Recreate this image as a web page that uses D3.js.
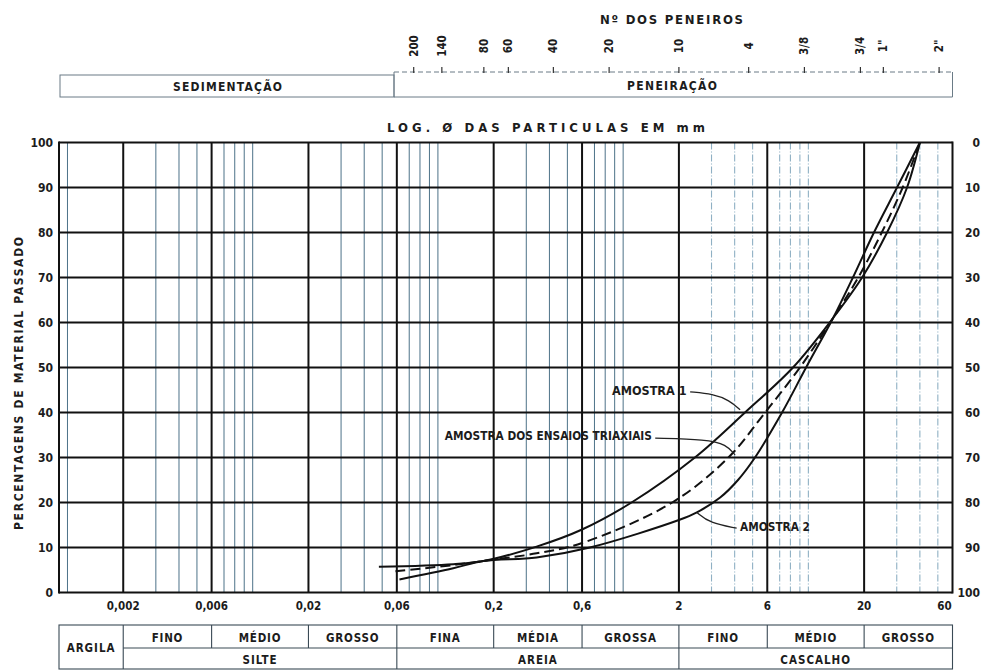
<!DOCTYPE html>
<html>
<head>
<meta charset="utf-8">
<script src="https://cdn.jsdelivr.net/npm/d3@7"></script>
<style>
  html, body { margin: 0; padding: 0; background: #fff; }
  svg { display: block; }
  text { font-family: 'DejaVu Sans Condensed', 'DejaVu Sans', sans-serif; font-weight: bold; fill: #1c1c1c; }
</style>
</head>
<body>
<svg id="chart" width="982" height="670"></svg>
<script>
// Grain size (mm) axis ticks and labels
const sizeTicks = [0.002, 0.006, 0.02, 0.06, 0.2, 0.6, 2, 6, 20, 60];
const sizeTickLabels = ["0,002", "0,006", "0,02", "0,06", "0,2", "0,6", "2", "6", "20", "60"];
const minorMultipliers = [1, 3, 4, 5, 7, 8, 9];

// Percent passing ticks (left) and percent retained labels (right)
const percentTicks = [0, 10, 20, 30, 40, 50, 60, 70, 80, 90, 100];
const leftLabels = ["0", "10", "20", "30", "40", "50", "60", "70", "80", "90", "100"];
const rightLabels = ["100", "90", "80", "70", "60", "50", "40", "30", "20", "10", "0"];

// Sieve numbers and their openings (mm)
const sieveNames = ["200", "140", "80", "60", "40", "20", "10", "4", "3/8", "3/4", "1\"", "2\""];
const sieveOpenings = [0.074, 0.105, 0.177, 0.24, 0.42, 0.84, 2.0, 4.76, 9.52, 19.1, 25.4, 50.8];

// Grading curves: particle size (mm) and percent passing
const amostra1Size = [0.048, 0.121, 0.176, 0.341, 0.6, 1.11, 2.44, 4.55, 8.26, 13.6, 19.5, 26.6, 34.1, 40];
const amostra1Pct  = [5.7, 6.3, 7.0, 10.2, 14.0, 20, 30, 40, 50, 61, 70, 80, 90, 100];

const triaxialSize = [0.059, 0.121, 0.176, 0.341, 0.6, 1.84, 3.7, 5.84, 9.0, 13.6, 18.6, 24.9, 32.3, 40];
const triaxialPct  = [4.7, 6.1, 7.0, 8.7, 11.0, 20, 30, 40, 50, 61, 70, 80, 90, 100];

const amostra2Size = [0.062, 0.121, 0.176, 0.341, 0.662, 2.0, 2.5, 3.34, 4.17, 5.15, 7.21, 9.72, 13.6, 17.4, 22.6, 30.1, 40];
const amostra2Pct  = [2.9, 5.4, 7.0, 7.8, 10.0, 16.1, 17.8, 21.1, 25.0, 30, 40, 50, 61, 70, 80, 90, 100];

// Soil classification bands (upper row and lower row)
const fractionNames = ["FINO", "MÉDIO", "GROSSO", "FINA", "MÉDIA", "GROSSA", "FINO", "MÉDIO", "GROSSO"];
const fractionBounds = [0.002, 0.006, 0.02, 0.06, 0.2, 0.6, 2, 6, 20, 60];
const soilNames = ["SILTE", "AREIA", "CASCALHO"];
const soilBounds = [0.002, 0.06, 2, 60];

// Curve annotations: label text, label anchor (mm, %), leader points (mm, %)
const labelTexts = ["AMOSTRA 1", "AMOSTRA DOS ENSAIOS TRIAXIAIS", "AMOSTRA 2"];
const labelSizes = [0.87, 0.109, 4.28];
const labelPcts = [43.9, 33.9, 13.7];
const labelEnds = [2.2, 1.43, 10.2];
const leaderSizes = [[2.3, 3.06, 3.75, 4.28], [1.49, 2.83, 3.6, 4.02], [4.1, 2.94, 2.5]];
const leaderPcts = [[44.6, 44.1, 42.7, 40.6], [34.3, 34.0, 32.9, 30.6], [14.3, 15.4, 17.8]];

const svg = d3.select("#chart");

const x = d3.scaleLog().domain([0.0009, 60]).range([59, 952.5]);
const y = d3.scaleLinear().domain([0, 100]).range([592.5, 142.5]);
const [x0, x1] = x.range();
const [yb, yt] = y.range();

function fitText(sel, width) {
  return sel.attr("textLength", width).attr("lengthAdjust", "spacing");
}

// ---- header: sieve scale ----
fitText(svg.append("text").attr("x", 600).attr("y", 24)
  .style("font-size", "13px").text("Nº DOS PENEIROS"), 143);

const sieveG = svg.append("g");
sieveG.append("line").attr("x1", 394).attr("x2", x1).attr("y1", 72).attr("y2", 72)
  .attr("stroke", "#6a7b86").attr("stroke-width", 1).attr("stroke-dasharray", "5,3");
sieveNames.forEach((n, i) => {
  const sx = x(sieveOpenings[i]);
  sieveG.append("line").attr("x1", sx).attr("x2", sx).attr("y1", 67).attr("y2", 73)
    .attr("stroke", "#333").attr("stroke-width", 1.2);
  sieveG.append("text").attr("transform", `translate(${sx},46) rotate(-90)`)
    .attr("text-anchor", "middle").attr("dy", "0.35em")
    .style("font-size", "11.5px").text(n);
});

// Peneiração bracket
svg.append("path")
  .attr("d", `M394,72 V97 H${x1} V72`)
  .attr("fill", "none").attr("stroke", "#6a7b86").attr("stroke-width", 1);
fitText(svg.append("text").attr("x", 627).attr("y", 90)
  .style("font-size", "12px").text("PENEIRAÇÃO"), 90);

// Sedimentação box
svg.append("rect").attr("x", x0 + 1).attr("y", 75).attr("width", 394 - x0 - 1).attr("height", 22)
  .attr("fill", "none").attr("stroke", "#6a7b86").attr("stroke-width", 1);
fitText(svg.append("text").attr("x", 173).attr("y", 91)
  .style("font-size", "12px").text("SEDIMENTAÇÃO"), 109);

fitText(svg.append("text").attr("x", 387).attr("y", 132)
  .style("font-size", "13px").text("LOG. Ø DAS PARTICULAS EM mm"), 318);

// ---- grid ----
const grid = svg.append("g");
const minorValues = [];
for (let e = -3; e <= 1; e++) {
  minorMultipliers.forEach(m => {
    const v = m * Math.pow(10, e);
    if (v > 0.0009 && v < 60) minorValues.push(+v.toPrecision(3));
  });
}
grid.selectAll("line.minor").data(minorValues).join("line")
  .attr("class", "minor")
  .attr("x1", d => x(d)).attr("x2", d => x(d))
  .attr("y1", yt).attr("y2", yb)
  .attr("stroke", d => d >= 2.5 ? "#8fb0c4" : "#4d7288")
  .attr("stroke-width", d => d >= 2.5 ? 1.1 : 1)
  .attr("stroke-dasharray", d => d >= 2.5 ? "7,2,1,2" : null);

grid.selectAll("line.major").data(sizeTicks.slice(0, -1)).join("line")
  .attr("class", "major")
  .attr("x1", d => x(d)).attr("x2", d => x(d))
  .attr("y1", yt).attr("y2", yb)
  .attr("stroke", "#111").attr("stroke-width", 2);

grid.selectAll("line.hgrid").data(percentTicks).join("line")
  .attr("class", "hgrid")
  .attr("x1", x0).attr("x2", x1)
  .attr("y1", d => y(d)).attr("y2", d => y(d))
  .attr("stroke", "#111").attr("stroke-width", 2);

grid.append("line").attr("x1", x0).attr("x2", x0).attr("y1", yt - 1).attr("y2", yb + 1)
  .attr("stroke", "#111").attr("stroke-width", 2);
grid.append("line").attr("x1", x1).attr("x2", x1).attr("y1", yt - 1).attr("y2", yb + 1)
  .attr("stroke", "#111").attr("stroke-width", 2);

// ---- axes labels ----
const axisG = svg.append("g");
axisG.selectAll("text.left").data(percentTicks).join("text")
  .attr("class", "left")
  .attr("x", 53).attr("y", d => y(d)).attr("dy", "0.36em")
  .attr("text-anchor", "end").style("font-size", "12px")
  .text((d, i) => leftLabels[i]);

axisG.selectAll("text.right").data(percentTicks).join("text")
  .attr("class", "right")
  .attr("x", 980).attr("y", d => y(d)).attr("dy", "0.36em")
  .attr("text-anchor", "end").style("font-size", "12px")
  .text((d, i) => rightLabels[i]);

axisG.selectAll("text.bottom").data(sizeTicks).join("text")
  .attr("class", "bottom")
  .attr("x", (d, i) => i === sizeTicks.length - 1 ? x(d) - 8 : x(d))
  .attr("y", 610)
  .attr("text-anchor", "middle").style("font-size", "11.5px")
  .text((d, i) => sizeTickLabels[i]);

fitText(svg.append("text").attr("transform", "translate(23,530) rotate(-90)")
  .style("font-size", "12px").text("PERCENTAGENS DE MATERIAL PASSADO"), 293);

// ---- grading curves ----
const line = d3.line().x(d => x(d[0])).y(d => y(d[1])).curve(d3.curveCatmullRom.alpha(0.5));
const curves = [
  { size: amostra1Size, pct: amostra1Pct, dash: null },
  { size: triaxialSize, pct: triaxialPct, dash: "10,5" },
  { size: amostra2Size, pct: amostra2Pct, dash: null }
];
svg.append("g").selectAll("path").data(curves).join("path")
  .attr("d", c => line(c.size.map((s, i) => [s, c.pct[i]])))
  .attr("fill", "none").attr("stroke", "#111").attr("stroke-width", 2)
  .attr("stroke-dasharray", c => c.dash);

// ---- annotations ----
const leader = d3.line().x(d => x(d[0])).y(d => y(d[1])).curve(d3.curveBasis);
const annG = svg.append("g");
labelTexts.forEach((t, i) => {
  annG.append("text").attr("x", x(labelSizes[i])).attr("y", y(labelPcts[i]))
    .attr("textLength", x(labelEnds[i]) - x(labelSizes[i]))
    .attr("lengthAdjust", "spacingAndGlyphs")
    .style("font-size", "11.5px").text(t);
  annG.append("path")
    .attr("d", leader(leaderSizes[i].map((s, j) => [s, leaderPcts[i][j]])))
    .attr("fill", "none").attr("stroke", "#222").attr("stroke-width", 1.3);
});

// ---- classification table ----
const tableTop = 625, tableMid = 648, tableBot = 669;
const tab = svg.append("g");
const tStroke = "#3a4a55";
tab.append("rect").attr("x", x0).attr("y", tableTop).attr("width", x1 - x0).attr("height", tableBot - tableTop)
  .attr("fill", "none").attr("stroke", tStroke).attr("stroke-width", 1.1);
tab.append("line").attr("x1", x(0.002)).attr("x2", x1).attr("y1", tableMid).attr("y2", tableMid)
  .attr("stroke", tStroke).attr("stroke-width", 1.1);
tab.selectAll("line.fb").data(fractionBounds.slice(0, -1)).join("line")
  .attr("class", "fb")
  .attr("x1", d => x(d)).attr("x2", d => x(d))
  .attr("y1", tableTop).attr("y2", d => soilBounds.includes(d) ? tableBot : tableMid)
  .attr("stroke", tStroke).attr("stroke-width", 1.1);
tab.append("text").attr("x", (x0 + x(0.002)) / 2).attr("y", 652).attr("text-anchor", "middle")
  .style("font-size", "11.5px").style("letter-spacing", "1px").text("ARGILA");
fractionNames.forEach((n, i) => {
  tab.append("text")
    .attr("x", (x(fractionBounds[i]) + x(fractionBounds[i + 1])) / 2).attr("y", 641.5)
    .attr("text-anchor", "middle").style("font-size", "11.5px").style("letter-spacing", "0.8px").text(n);
});
soilNames.forEach((n, i) => {
  tab.append("text")
    .attr("x", (x(soilBounds[i]) + x(soilBounds[i + 1])) / 2).attr("y", 663.5)
    .attr("text-anchor", "middle").style("font-size", "11.5px").style("letter-spacing", "1px").text(n);
});
</script>
</body>
</html>
